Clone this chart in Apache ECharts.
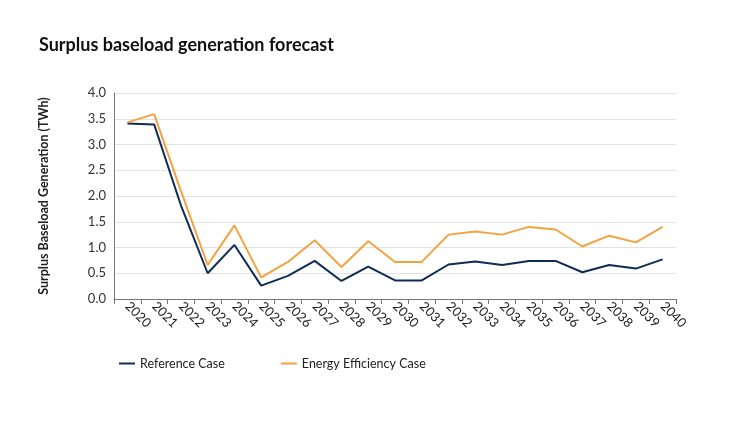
<!DOCTYPE html>
<html>
<head>
<meta charset="utf-8">
<script src="https://cdn.jsdelivr.net/npm/echarts@6/dist/echarts.min.js"></script>
<style>
  html, body { margin: 0; padding: 0; background: #fff; }
  #chart { width: 750px; height: 422px; }
</style>
</head>
<body>
<div id="chart"></div>
<script>
const years = ['2020', '2021', '2022', '2023', '2024', '2025', '2026', '2027', '2028', '2029', '2030',
  '2031', '2032', '2033', '2034', '2035', '2036', '2037', '2038', '2039', '2040'];
const referenceCase = [3.41, 3.39, 1.82, 0.50, 1.05, 0.26, 0.45, 0.74, 0.35, 0.63, 0.36,
  0.36, 0.67, 0.73, 0.66, 0.74, 0.74, 0.52, 0.66, 0.59, 0.77];
const efficiencyCase = [3.43, 3.59, 2.10, 0.66, 1.43, 0.42, 0.72, 1.14, 0.62, 1.12, 0.72,
  0.72, 1.25, 1.31, 1.25, 1.40, 1.35, 1.02, 1.23, 1.10, 1.40];
const yTicks = { min: 0, max: 4, step: 0.5 };

const chart = echarts.init(document.getElementById('chart'));
const font = 'Lato';

const option = {
  textStyle: { fontFamily: font },
  title: {
    text: 'Surplus baseload generation forecast',
    left: 34,
    top: 31,
    textStyle: { fontFamily: font, fontSize: 18, fontWeight: 'bold', color: '#111' }
  },
  legend: {
    left: 114,
    top: 352,
    itemGap: 56,
    itemWidth: 16,
    itemHeight: 2,
    icon: 'rect',
    textStyle: { fontFamily: font, fontSize: 12.5, color: '#222' },
    data: ['Reference Case', 'Energy Efficiency Case']
  },
  grid: { left: 114, right: 74, top: 93, bottom: 123 },
  xAxis: {
    type: 'category',
    data: years,
    boundaryGap: true,
    axisLine: { lineStyle: { color: '#777' } },
    axisTick: { show: true, length: 5, lineStyle: { color: '#777' } },
    axisLabel: { rotate: -45, interval: 0, color: '#222', fontSize: 13, margin: 5 },
    splitLine: { show: false }
  },
  yAxis: {
    type: 'value',
    min: yTicks.min,
    max: yTicks.max,
    interval: yTicks.step,
    name: 'Surplus Baseload Generation (TWh)',
    nameLocation: 'middle',
    nameGap: 64,
    nameTextStyle: { fontFamily: font, fontSize: 12.5, fontWeight: 'bold', color: '#222' },
    axisLine: { show: true, lineStyle: { color: '#777' } },
    axisTick: { show: false },
    axisLabel: {
      color: '#333',
      fontSize: 13,
      margin: 8,
      formatter: v => v.toFixed(1)
    },
    splitLine: { lineStyle: { color: '#e3e3e3' } }
  },
  series: [
    {
      name: 'Reference Case',
      type: 'line',
      data: referenceCase,
      symbol: 'none',
      color: '#0e2c55',
      lineStyle: { width: 2 }
    },
    {
      name: 'Energy Efficiency Case',
      type: 'line',
      data: efficiencyCase,
      symbol: 'none',
      color: '#f4a240',
      lineStyle: { width: 2 }
    }
  ]
};

chart.setOption(option);
</script>
</body>
</html>
